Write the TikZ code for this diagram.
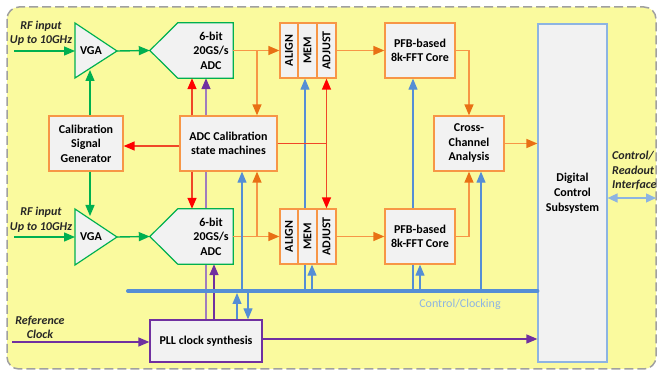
\documentclass[tikz,border=0pt]{standalone}
\usepackage{fontspec}
\setmainfont{Carlito}
\usepackage{graphicx}
\usetikzlibrary{arrows.meta,calc}
\pgfdeclarelayer{back}\pgfdeclarelayer{mid}\pgfsetlayers{back,mid,main}
\definecolor{yel}{RGB}{250,250,158}
\definecolor{boxf}{RGB}{242,242,242}
\definecolor{org}{RGB}{247,150,70}
\definecolor{orgD}{RGB}{232,112,20}
\definecolor{grn}{RGB}{0,176,80}
\definecolor{redL}{RGB}{240,70,40}
\definecolor{pur}{RGB}{112,48,160}
\definecolor{purL}{RGB}{160,125,190}
\definecolor{blu}{RGB}{85,142,213}
\definecolor{bluL}{RGB}{141,180,226}
\definecolor{grayd}{RGB}{160,160,160}
\begin{document}
\begin{tikzpicture}[x=1pt,y=-1pt,
  lbl/.style={font=\bfseries\fontsize{12}{14.5}\selectfont, align=center, inner sep=0pt},
  ital/.style={font=\bfseries\itshape\fontsize{12}{14.5}\selectfont, align=center, inner sep=0pt, text=black!85},
  obox/.style={draw=org, line width=1.3pt, fill=boxf, lbl},
  col/.style={obox, minimum height=55pt},
  ghost/.style={inner sep=0pt, draw=none},
  gshape/.style={draw=grn, line width=1.2pt, fill=boxf},
  wire/.style={line width=1.4pt},
  tipc/.style={-{Triangle[length=11pt,width=9pt,color=#1]}},
  garrow/.style={wire, draw=grn, tipc=grn},
  oarrow/.style={wire, draw=org, tipc=orgD},
  oline/.style={wire, draw=org},
  rarrow/.style={wire, draw=redL, tipc=red},
  barrow/.style={line width=1.1pt, draw=blu, tipc=blu},
  parrow/.style={wire, draw=pur, tipc=pur},
]
\useasboundingbox (0,0) rectangle (657,371);
\begin{pgfonlayer}{back}
\draw[fill=yel, draw=grayd, line width=1.5pt, dash pattern=on 9pt off 4pt, rounded corners=12pt] (7,7) rectangle (656,369);
\end{pgfonlayer}

% coordinates
\coordinate (rf1) at (14,51);
\coordinate (rf2) at (14,237);
\coordinate (v1w) at (75,51);
\coordinate (v1e) at (117,51);
\coordinate (v2w) at (75,237);
\coordinate (v2e) at (117,237);
\coordinate (v1b) at (90,70);
\coordinate (v2t) at (90,216);
\coordinate (xr) at (192,0);
\coordinate (xp1) at (206,0);
\coordinate (xp2) at (214,0);
\coordinate (xb0) at (237,0);
\coordinate (xb1) at (242,0);
\coordinate (xb2) at (248,0);
\coordinate (br1) at (257,51);
\coordinate (br2) at (257,237);
\coordinate (xm1) at (305,0);
\coordinate (xm2) at (312,0);
\coordinate (xf1) at (413,0);
\coordinate (xf2) at (420,0);
\coordinate (xc) at (481,0);
\coordinate (busL) at (128,291);
\coordinate (refc) at (12,342);
\coordinate (ifR) at (656,198);

% boxes
\node[obox, minimum width=74pt, minimum height=55pt] (calgen) at (86,143.5) {Calibration\\Signal\\Generator};
\node[obox, minimum width=97pt, minimum height=55pt] (adccal) at (228.5,143.5) {ADC Calibration\\state machines};
\node[obox, minimum width=70pt, minimum height=55pt] (pfb1) at (420,50.5) {PFB-based\\8k-FFT Core};
\node[obox, minimum width=70pt, minimum height=55pt] (pfb2) at (420,236.5) {PFB-based\\8k-FFT Core};
\node[obox, minimum width=70pt, minimum height=55pt] (cross) at (469,143.5) {Cross-\\Channel\\Analysis};
\node[draw=bluL, line width=1.2pt, fill=boxf, lbl, font=\bfseries\fontsize{12}{15}\selectfont, minimum width=69pt, minimum height=338pt] (dcs) at (572.5,193) {Digital\\Control\\Subsystem};
\node[draw=pur, line width=1.3pt, fill=boxf, lbl, minimum width=112pt, minimum height=42pt] (pll) at (206,341) {PLL clock synthesis};

\node[col, minimum width=18pt] (al1) at (289,50.5) {\rotatebox{90}{ALIGN}};
\node[col, minimum width=19pt] (me1) at (307.5,50.5) {\rotatebox{90}{MEM}};
\node[col, minimum width=19pt] (ad1) at (326.5,50.5) {\rotatebox{90}{ADJUST}};
\node[col, minimum width=18pt] (al2) at (289,236.5) {\rotatebox{90}{ALIGN}};
\node[col, minimum width=19pt] (me2) at (307.5,236.5) {\rotatebox{90}{MEM}};
\node[col, minimum width=19pt] (ad2) at (326.5,236.5) {\rotatebox{90}{ADJUST}};

% VGAs
\draw[gshape] (75,23) -- (v1e) -- (75,78) -- cycle;
\node[lbl] (vga1) at (91,51) {VGA};
\draw[gshape] (75,209) -- (v2e) -- (75,265) -- cycle;
\node[lbl] (vga2) at (91,237) {VGA};

% ADCs
\node[ghost, minimum width=83pt, minimum height=55pt] (adc1) at (191.5,50.5) {};
\draw[gshape] (adc1.west) -- ($(adc1.north west)+(28,0)$) -- (adc1.north east) -- (adc1.south east) -- ($(adc1.south west)+(28,0)$) -- cycle;
\node[lbl] (adc1t) at (211,50.5) {6-bit\\20GS/s\\ADC};
\node[ghost, minimum width=83pt, minimum height=55pt] (adc2) at (191.5,236.5) {};
\draw[gshape] (adc2.west) -- ($(adc2.north west)+(28,0)$) -- (adc2.north east) -- (adc2.south east) -- ($(adc2.south west)+(28,0)$) -- cycle;
\node[lbl] (adc2t) at (211,236.5) {6-bit\\20GS/s\\ADC};

% labels
\node[ital] (rfl1) at (41,33) {RF input\\Up to 10GHz};
\node[ital] (rfl2) at (41,219.5) {RF input\\Up to 10GHz};
\node[ital] (refl) at (40,327.5) {Reference\\Clock};
\node[ital, align=left, anchor=west] (ifl) at (612,170.5) {Control/\\Readout\\Interface};
\node[font=\fontsize{12}{14}\selectfont, text=bluL, inner sep=0pt] (ccl) at (460,304) {Control/Clocking};

% lines behind boxes
\begin{pgfonlayer}{mid}
\draw[wire, draw=purL, tipc=pur] (pll.north -| xp1) -- (adc1.south -| xp1);
\draw[barrow] (busL -| xm1) -- (me1.south -| xm1);
\draw[barrow] (busL -| xf1) -- (pfb1.south -| xf1);
\end{pgfonlayer}

% green
\draw[garrow] (rf1) -- (v1w);
\draw[garrow] (v1e) -- (adc1.west);
\draw[garrow] (rf2) -- (v2w);
\draw[garrow] (v2e) -- (adc2.west);
\draw[garrow] (v1b |- calgen.north) -- (v1b);
\draw[garrow] (v2t |- calgen.south) -- (v2t);

% orange
\draw[oarrow] (adc1.east) -- (al1.west);
\draw[oarrow] (br1) -- (br1 |- adccal.north);
\draw[oarrow] (adc2.east) -- (al2.west);
\draw[oarrow] (br2) -- (br2 |- adccal.south);
\draw[oarrow] (ad1.east) -- (pfb1.west);
\draw[oarrow] (ad2.east) -- (pfb2.west);
\draw[oarrow] (pfb1.east) -| (cross.north);
\draw[oarrow] (pfb2.east) -| (cross.south);
\draw[oarrow] (cross.east) -- (cross.east -| dcs.west);

% red
\draw[rarrow] ([yshift=-2.5pt]adccal.west) -- ([yshift=-2.5pt]calgen.east);
\draw[rarrow] (adccal.east) -| (ad1.south);
\draw[rarrow] (adccal.east) -| (ad2.north);
\draw[rarrow] (adccal.north -| xr) -- (adc1.south -| xr);
\draw[rarrow] (adccal.south -| xr) -- (adc2.north -| xr);

% purple
\draw[parrow] (pll.north -| xp2) -- (adc2.south -| xp2);
\draw[parrow] (refc) -- (refc -| pll.west);
\draw[parrow] ([yshift=2pt]pll.east) -- ([yshift=2pt]pll.east -| dcs.west);

% blue
\draw[barrow] (busL -| xb1) -- (adccal.south -| xb1);
\draw[barrow] (busL -| xm2) -- (me2.south -| xm2);
\draw[barrow] (busL -| xf2) -- (pfb2.south -| xf2);
\draw[barrow] (busL -| xc) -- (cross.south -| xc);
\draw[barrow] (pll.north -| xb0) -- ($(busL -| xb0)+(0,2)$);
\draw[barrow] (busL -| xb2) -- (pll.north -| xb2);
\draw[line width=4pt, draw=blu, line cap=round] (busL) -- (busL -| dcs.west);
\draw[line width=1.4pt, draw=bluL, {Triangle[length=10pt,width=9pt]}-{Triangle[length=10pt,width=9pt]}] (dcs.east |- ifR) -- (ifR);
\end{tikzpicture}
\end{document}
